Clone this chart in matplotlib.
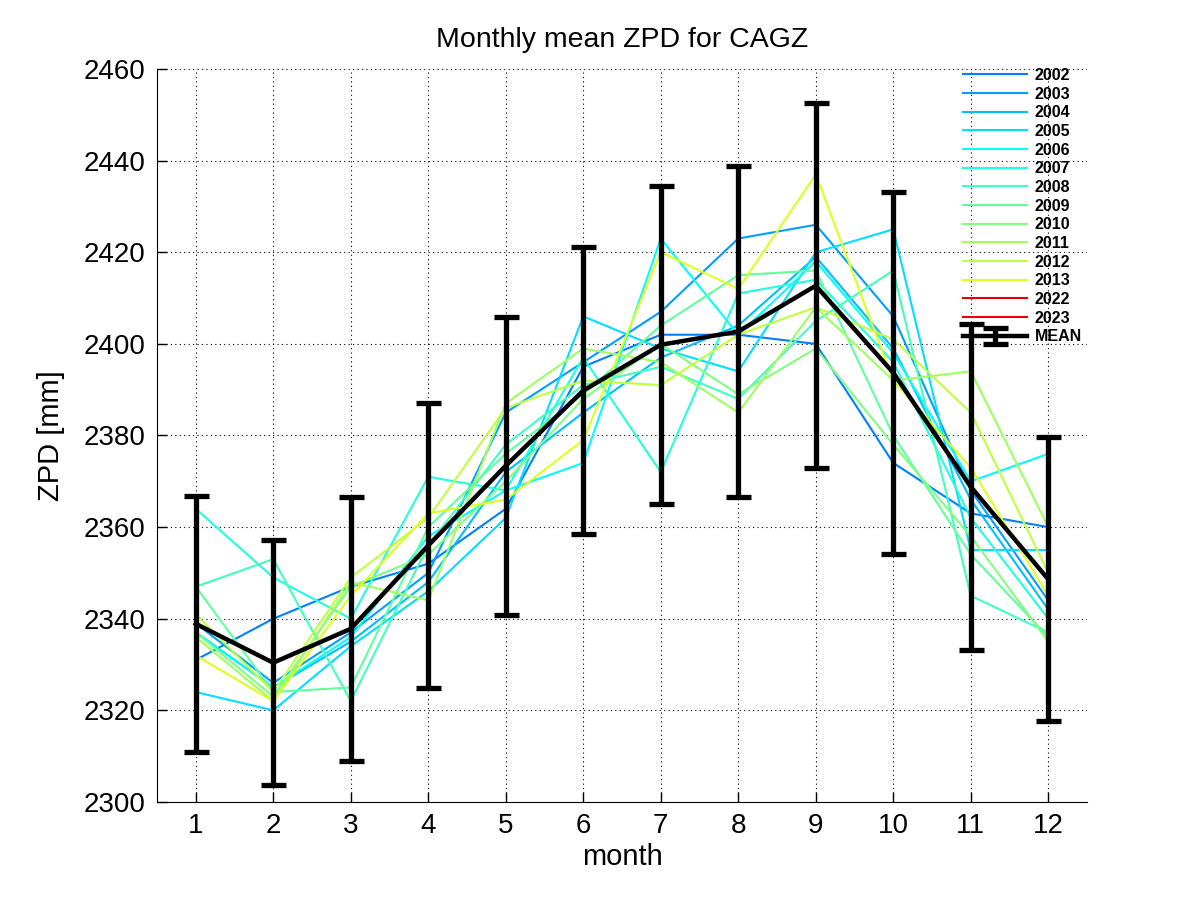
import numpy as np
import matplotlib
matplotlib.use('Agg')
import matplotlib.pyplot as plt

plt.rcParams['font.family'] = ['Liberation Sans', 'DejaVu Sans']

months = np.arange(1, 13)
years = ['2002', '2003', '2004', '2005', '2006', '2007', '2008',
         '2009', '2010', '2011', '2012', '2013', '2022', '2023']

# monthly means per year (mm)
zpd = {
    '2002': [2331, 2340, 2347, 2352, 2364, 2395, 2402, 2402, 2400, 2374, 2363, 2360],
    '2003': [2339, 2326, 2337, 2350, 2385, 2396, 2407, 2423, 2426, 2406, 2368, 2344],
    '2004': [2337, 2325, 2335, 2348, 2372, 2385, 2397, 2404, 2419, 2399, 2366, 2342],
    '2005': [2324, 2320, 2334, 2346, 2362, 2406, 2399, 2394, 2420, 2425, 2355, 2355],
    '2006': [2337, 2325, 2336, 2358, 2368, 2374, 2423, 2402, 2418, 2398, 2370, 2376],
    '2007': [2364, 2349, 2340, 2371, 2368, 2397, 2372, 2411, 2414, 2396, 2362, 2340],
    '2008': [2347, 2353, 2322, 2356, 2378, 2391, 2395, 2388, 2405, 2416, 2345, 2337],
    '2009': [2347, 2324, 2325, 2360, 2376, 2389, 2404, 2415, 2416, 2380, 2354, 2336],
    '2010': [2337, 2323, 2347, 2354, 2370, 2388, 2400, 2389, 2399, 2378, 2358, 2335],
    '2011': [2336, 2322, 2348, 2344, 2387, 2399, 2396, 2385, 2408, 2392, 2394, 2360],
    '2012': [2341, 2324, 2349, 2362, 2386, 2392, 2391, 2402, 2408, 2401, 2385, 2350],
    '2013': [2332, 2322, 2345, 2363, 2366, 2379, 2420, 2412, 2437, 2392, 2373, 2345],
    '2022': [None] * 12,
    '2023': [None] * 12,
}

colors = {
    '2002': (0, 0.5, 1), '2003': (0, 0.625, 1), '2004': (0, 0.75, 1),
    '2005': (0, 0.875, 1), '2006': (0, 1, 1), '2007': (0.125, 1, 0.875),
    '2008': (0.25, 1, 0.75), '2009': (0.375, 1, 0.625), '2010': (0.5, 1, 0.5),
    '2011': (0.625, 1, 0.375), '2012': (0.75, 1, 0.25), '2013': (0.875, 1, 0.125),
    '2022': (0.9, 0, 0), '2023': (0.9, 0, 0),
}

mean_zpd = [2338.9, 2330.4, 2337.8, 2356.0, 2373.4, 2389.8,
            2399.8, 2402.7, 2412.7, 2393.7, 2368.8, 2348.6]
err_zpd = [28.0, 26.7, 28.8, 31.2, 32.5, 31.3, 34.7, 36.2, 39.8, 39.5, 35.6, 31.0]

fig = plt.figure(figsize=(12.01, 9.01), dpi=100)
ax = fig.add_axes([0.1307, 0.1099, 0.7744, 0.8135])

for y in years:
    vals = np.array([np.nan if v is None else v for v in zpd[y]], dtype=float)
    ax.plot(months, vals, color=colors[y], lw=1.5, label=y)

ax.errorbar(months, mean_zpd, yerr=err_zpd, color='black', lw=3.2,
            elinewidth=3.8, capsize=9, capthick=3.8, label='MEAN', zorder=5)

ax.set_xlim(0.5, 12.5)
ax.set_ylim(2300, 2460)
ax.set_xticks(months)
ax.set_yticks(np.arange(2300, 2461, 20))
ax.tick_params(direction='in', length=7, width=1, labelsize=20, pad=8)
ax.grid(True, color='black', linestyle=(0, (1, 3)), linewidth=0.8)
ax.spines['top'].set_visible(False)
ax.spines['right'].set_visible(False)

ax.set_title('Monthly mean ZPD for CAGZ', fontsize=20.5, pad=16)
ax.set_xlabel('month', fontsize=21, labelpad=3)
ax.set_ylabel('ZPD [mm]', fontsize=21, labelpad=14)

leg = fig.legend(loc='upper left', bbox_to_anchor=(963 / 1201, 1 - 68 / 901),
                 frameon=False, prop={'weight': 'bold', 'size': 11.5},
                 handlelength=4.0, handletextpad=0.5, labelspacing=0.23,
                 borderpad=0, borderaxespad=0)

fig.savefig('out.png', dpi=100)
